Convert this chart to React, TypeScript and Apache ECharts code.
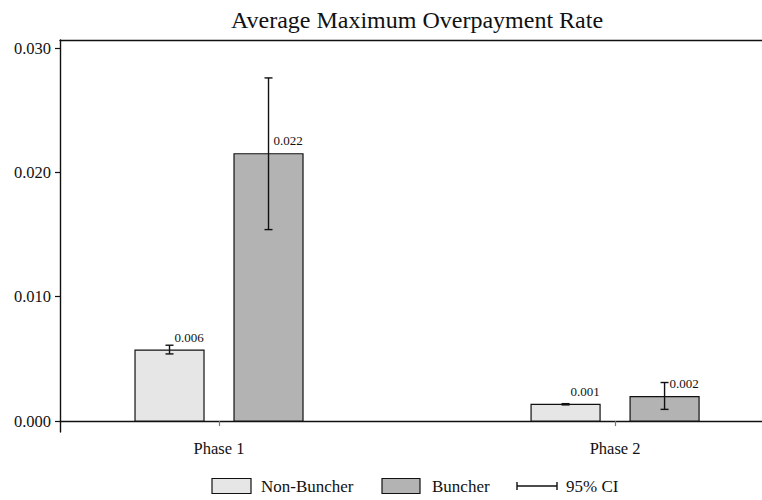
import React, { useEffect, useRef } from "react";
import * as echarts from "echarts";

const categories = ["Phase 1", "Phase 2"];
const nonBuncher = [0.0057, 0.00134];
const nonBuncherLow = [0.0054, 0.0013];
const nonBuncherHigh = [0.0061, 0.0014];
const nonBuncherLabels = ["0.006", "0.001"];
const buncher = [0.0215, 0.00196];
const buncherLow = [0.0154, 0.00094];
const buncherHigh = [0.0276, 0.0031];
const buncherLabels = ["0.022", "0.002"];
const yTicks = [0, 0.01, 0.02, 0.03];
const yTickLabels = ["0.000", "0.010", "0.020", "0.030"];

const FONT = "'Liberation Serif', 'Times New Roman', serif";
const INK = "#111111";

export default function App() {
  const ref = useRef<HTMLDivElement>(null);
  useEffect(() => {
    const chart = echarts.init(ref.current!, null, { renderer: "svg" });

    const makeBarSeries = (
      name: string,
      values: number[],
      lows: number[],
      highs: number[],
      labels: string[],
      offset: number,
      fill: string
    ) => ({
      type: "custom",
      name,
      xAxisIndex: 0,
      yAxisIndex: 0,
      data: values.map((v, i) => [i + 1, v, lows[i], highs[i], i]),
      renderItem: (params: any, api: any) => {
        const x = api.value(0);
        const v = api.value(1);
        const lo = api.value(2);
        const hi = api.value(3);
        const idx = api.value(4);
        const top = api.coord([x, v]);
        const base = api.coord([x, 0]);
        const pLo = api.coord([x, lo]);
        const pHi = api.coord([x, hi]);
        const cx = top[0] + offset;
        const half = 34.5;
        const cap = 4;
        return {
          type: "group",
          children: [
            {
              type: "rect",
              shape: { x: cx - half, y: top[1], width: half * 2, height: base[1] - top[1] },
              style: { fill, stroke: INK, lineWidth: 1.2 },
            },
            {
              type: "line",
              shape: { x1: cx, y1: pLo[1], x2: cx, y2: pHi[1] },
              style: { stroke: INK, lineWidth: 1.4 },
            },
            {
              type: "line",
              shape: { x1: cx - cap, y1: pLo[1], x2: cx + cap, y2: pLo[1] },
              style: { stroke: INK, lineWidth: 1.4 },
            },
            {
              type: "line",
              shape: { x1: cx - cap, y1: pHi[1], x2: cx + cap, y2: pHi[1] },
              style: { stroke: INK, lineWidth: 1.4 },
            },
            {
              type: "text",
              x: cx + 5,
              y: top[1] - 13,
              style: {
                text: labels[idx],
                font: `13px ${FONT}`,
                fill: INK,
                verticalAlign: "middle",
                align: "left",
              },
            },
          ],
        };
      },
    });

    const legendY = 486;
    const legendFont = `17px ${FONT}`;

    chart.setOption({
      animation: false,
      backgroundColor: "#ffffff",
      title: {
        text: "Average Maximum Overpayment Rate",
        left: 417,
        top: 8,
        textAlign: "center",
        padding: 0,
        textStyle: { fontFamily: FONT, fontSize: 24, fontWeight: "normal", color: INK },
      },
      grid: { left: 60, right: 0, top: 40, bottom: 68, containLabel: false },
      xAxis: [
        {
          type: "value",
          min: 0.5985,
          max: 2.371,
          position: "bottom",
          splitLine: { show: false },
          axisLine: { show: true, lineStyle: { color: INK, width: 1.4 } },
          axisTick: {
            show: true,
            customValues: [1, 2],
            length: 5,
            lineStyle: { color: "#777", width: 1.2 },
          },
          axisLabel: {
            show: true,
            customValues: [1, 2],
            formatter: (v: number) => categories[Math.round(v) - 1],
            fontFamily: FONT,
            fontSize: 16.5,
            color: INK,
            margin: 8,
          },
        },
        {
          type: "value",
          min: 0.5985,
          max: 2.371,
          position: "top",
          splitLine: { show: false },
          axisLine: { show: true, lineStyle: { color: INK, width: 1.4 } },
          axisTick: { show: false },
          axisLabel: { show: false },
        },
      ],
      yAxis: {
        type: "value",
        min: -0.00088,
        max: 0.03065,
        splitLine: { show: false },
        axisLine: { show: true, lineStyle: { color: INK, width: 1.4 } },
        axisTick: {
          show: true,
          customValues: yTicks,
          length: 5,
          lineStyle: { color: INK, width: 1.2 },
        },
        axisLabel: {
          show: true,
          customValues: yTicks,
          formatter: (v: number) => {
            const i = yTicks.findIndex((t) => Math.abs(t - v) < 1e-9);
            return i >= 0 ? yTickLabels[i] : "";
          },
          fontFamily: FONT,
          fontSize: 16.5,
          color: INK,
          margin: 9,
        },
      },
      graphic: [
        {
          type: "rect",
          shape: { x: 212, y: legendY - 7.5, width: 39, height: 15 },
          style: { fill: "#e6e6e6", stroke: INK, lineWidth: 1.2 },
        },
        {
          type: "text",
          x: 261,
          y: legendY,
          style: { text: "Non-Buncher", font: legendFont, fill: INK, verticalAlign: "middle" },
        },
        {
          type: "rect",
          shape: { x: 382, y: legendY - 7.5, width: 38, height: 15 },
          style: { fill: "#b3b3b3", stroke: INK, lineWidth: 1.2 },
        },
        {
          type: "text",
          x: 432,
          y: legendY,
          style: { text: "Buncher", font: legendFont, fill: INK, verticalAlign: "middle" },
        },
        {
          type: "line",
          shape: { x1: 517, y1: legendY, x2: 557, y2: legendY },
          style: { stroke: INK, lineWidth: 1.4 },
        },
        {
          type: "line",
          shape: { x1: 517, y1: legendY - 4, x2: 517, y2: legendY + 4 },
          style: { stroke: INK, lineWidth: 1.4 },
        },
        {
          type: "line",
          shape: { x1: 557, y1: legendY - 4, x2: 557, y2: legendY + 4 },
          style: { stroke: INK, lineWidth: 1.4 },
        },
        {
          type: "text",
          x: 566,
          y: legendY,
          style: { text: "95% CI", font: legendFont, fill: INK, verticalAlign: "middle" },
        },
      ],
      series: [
        makeBarSeries("Non-Buncher", nonBuncher, nonBuncherLow, nonBuncherHigh, nonBuncherLabels, -49.5, "#e6e6e6"),
        makeBarSeries("Buncher", buncher, buncherLow, buncherHigh, buncherLabels, 49.5, "#b3b3b3"),
      ],
    });
    return () => chart.dispose();
  }, []);
  return (
    <div
      ref={ref}
      style={{ position: "fixed", left: 0, top: 0, width: 762, height: 500, background: "#fff" }}
    />
  );
}
